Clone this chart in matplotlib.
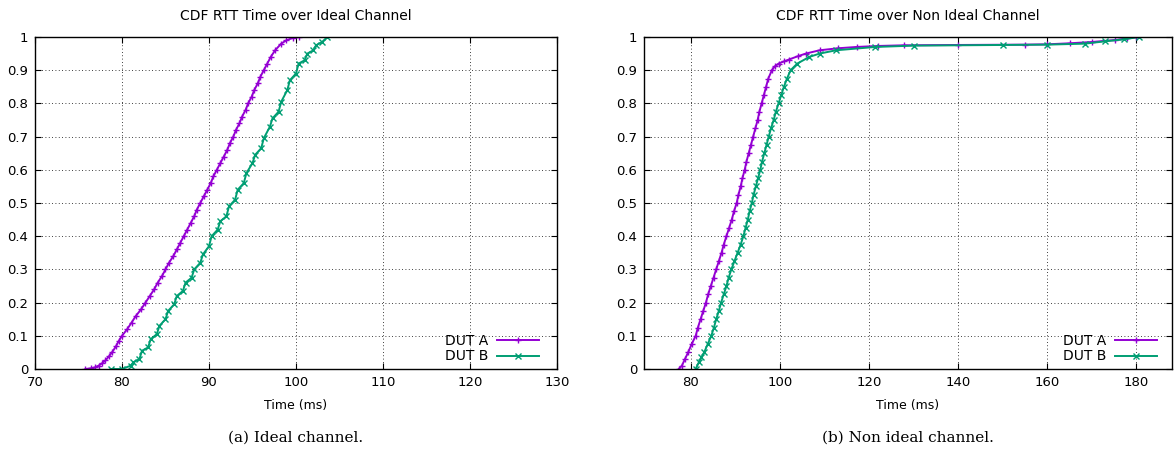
import matplotlib.pyplot as plt

# (a) ideal channel
ideal_a_x = [75.8, 76.4, 76.9, 77.3, 77.7, 78.1, 78.5, 78.9, 79.3, 79.6,
             80.0, 80.6, 81.1, 81.6, 82.2, 82.7, 83.2, 83.7, 84.1, 84.6,
             85.0, 85.4, 85.9, 86.3, 86.7, 87.1, 87.5, 87.9, 88.3, 88.6,
             89.0, 89.4, 89.8, 90.2, 90.5, 90.9, 91.3, 91.7, 92.1, 92.4,
             92.8, 93.1, 93.5, 93.8, 94.2, 94.5, 94.9, 95.2, 95.6, 95.9,
             96.3, 96.7, 97.1, 97.6, 98.3, 98.9, 99.6, 100.3, 130.0]
ideal_a_y = [0.0, 0.002, 0.005, 0.01, 0.017, 0.026, 0.038, 0.052, 0.068, 0.083,
             0.10, 0.12, 0.14, 0.16, 0.18, 0.20, 0.22, 0.24, 0.26, 0.28,
             0.30, 0.32, 0.34, 0.36, 0.38, 0.40, 0.42, 0.44, 0.46, 0.48,
             0.50, 0.52, 0.54, 0.56, 0.58, 0.60, 0.62, 0.64, 0.66, 0.68,
             0.70, 0.72, 0.74, 0.76, 0.78, 0.80, 0.82, 0.84, 0.86, 0.88,
             0.90, 0.92, 0.94, 0.96, 0.98, 0.99, 0.997, 1.0, 1.0]

ideal_b_x = [78.7, 80.0, 81.0, 81.3, 82.0, 82.3, 83.0, 83.3, 84.0, 84.3, 85.0, 85.3,
             86.0, 86.3, 87.0, 87.3, 88.0, 88.3, 89.0, 89.3, 90.0, 90.3, 91.0, 91.3,
             92.0, 92.3, 93.0, 93.3, 94.0, 94.3, 95.0, 95.3, 96.0, 96.3, 97.0, 97.3,
             98.0, 98.3, 99.0, 99.3, 100.0, 100.3, 101.0, 101.3, 102.0, 102.3, 103.0,
             103.6, 130.0]
ideal_b_y = [0.0, 0.0, 0.01, 0.02, 0.03, 0.055, 0.065, 0.09, 0.105, 0.13, 0.15, 0.175,
             0.195, 0.22, 0.235, 0.26, 0.275, 0.30, 0.32, 0.345, 0.37, 0.40, 0.42, 0.445,
             0.46, 0.49, 0.51, 0.54, 0.56, 0.59, 0.62, 0.645, 0.665, 0.695, 0.73, 0.755,
             0.775, 0.805, 0.84, 0.87, 0.89, 0.92, 0.93, 0.95, 0.96, 0.975, 0.985,
             1.0, 1.0]

# (b) non ideal channel
nonideal_a_x = [77.3, 78.0, 78.7, 79.4, 80.2, 81.1, 81.6, 82.2, 82.8, 83.4, 83.9, 84.5,
                85.1, 85.7, 86.3, 86.9, 87.4, 88.0, 88.6, 89.2, 89.7, 90.3, 90.7, 91.2,
                91.6, 92.1, 92.5, 93.0, 93.5, 94.0, 94.5, 95.0, 95.4, 95.9, 96.4, 96.9,
                97.4, 98.2, 98.9, 99.7, 101.0, 102.0, 104.0, 105.8, 108.9, 113.0, 117.2,
                122.0, 127.8, 140.0, 155.0, 160.0, 165.0, 170.0, 175.3, 178.0, 180.0, 188.0]
nonideal_a_y = [0.0, 0.01, 0.03, 0.05, 0.075, 0.10, 0.125, 0.15, 0.175, 0.20, 0.225, 0.25,
                0.275, 0.30, 0.325, 0.35, 0.375, 0.40, 0.425, 0.45, 0.475, 0.50, 0.525, 0.55,
                0.575, 0.60, 0.625, 0.65, 0.675, 0.70, 0.725, 0.75, 0.775, 0.80, 0.825, 0.85,
                0.875, 0.90, 0.912, 0.92, 0.927, 0.932, 0.942, 0.95, 0.96, 0.966, 0.97,
                0.973, 0.975, 0.976, 0.977, 0.978, 0.981, 0.985, 0.991, 0.996, 1.0, 1.0]

nonideal_b_x = [81.1, 81.8, 82.4, 83.0, 83.8, 84.6, 85.2, 85.7, 86.3, 86.8, 87.4, 88.0,
                88.5, 89.1, 89.8, 90.5, 91.2, 91.8, 92.3, 92.8, 93.2, 93.7, 94.1, 94.6,
                95.1, 95.6, 96.0, 96.5, 97.0, 97.5, 98.0, 98.6, 99.1, 99.7, 100.3, 100.9,
                101.6, 102.4, 103.9, 106.6, 108.9, 112.6, 121.4, 130.0, 150.0, 160.0,
                168.5, 173.0, 177.3, 180.5, 188.0]
nonideal_b_y = [0.0, 0.02, 0.035, 0.05, 0.075, 0.10, 0.125, 0.15, 0.175, 0.20, 0.225, 0.25,
                0.275, 0.30, 0.325, 0.35, 0.375, 0.40, 0.425, 0.45, 0.475, 0.50, 0.525, 0.55,
                0.575, 0.60, 0.625, 0.65, 0.675, 0.70, 0.725, 0.75, 0.775, 0.80, 0.825, 0.85,
                0.875, 0.90, 0.92, 0.94, 0.95, 0.96, 0.97, 0.974, 0.976, 0.977,
                0.98, 0.987, 0.993, 1.0, 1.0]

titles = ["CDF RTT Time over Ideal Channel", "CDF RTT Time over Non Ideal Channel"]
captions = ["(a) Ideal channel.", "(b) Non ideal channel."]
labels = ["DUT A", "DUT B"]
yticks = [0, 0.1, 0.2, 0.3, 0.4, 0.5, 0.6, 0.7, 0.8, 0.9, 1]
ytick_labels = ["0", "0.1", "0.2", "0.3", "0.4", "0.5", "0.6", "0.7", "0.8", "0.9", "1"]

purple = "#9400D3"
green = "#009E73"

plt.rcParams["font.family"] = ["DejaVu Sans"]

W, H = 1176, 450
fig = plt.figure(figsize=(W / 100, H / 100), dpi=100)
ax1 = fig.add_axes([35 / W, 81 / H, 522 / W, 332 / H])
ax2 = fig.add_axes([644 / W, 81 / H, 528 / W, 332 / H])

panels = [
    (ax1, ideal_a_x, ideal_a_y, ideal_b_x, ideal_b_y, (70, 130), [70, 80, 90, 100, 110, 120, 130], 539),
    (ax2, nonideal_a_x, nonideal_a_y, nonideal_b_x, nonideal_b_y, (69.5, 188), [80, 100, 120, 140, 160, 180], 1157),
]

for i, (ax, ax_x, ax_y, bx, by, xlim, xticks, leg_right) in enumerate(panels):
    # last point only carries the line to the right edge, no marker there
    ax.plot(ax_x, ax_y, color=purple, lw=1.4, marker="+", ms=5, mew=1.0,
            markevery=slice(0, -1), label=labels[0])
    ax.plot(bx, by, color=green, lw=1.4, marker="x", ms=4, mew=1.0,
            markevery=slice(0, -1), label=labels[1])
    ax.set_xlim(*xlim)
    ax.set_ylim(0, 1)
    ax.set_xticks(xticks)
    ax.set_yticks(yticks)
    ax.set_yticklabels(ytick_labels)
    ax.grid(True, color="black", linestyle=(0, (1, 3)), lw=0.6)
    ax.tick_params(direction="in", top=True, right=True, length=4, labelsize=9.5, pad=5)
    for s in ax.spines.values():
        s.set_linewidth(1.0)
    ax.set_title(titles[i], fontsize=10, pad=12)
    ax.set_xlabel("Time (ms)", fontsize=9, labelpad=7)
    pos = ax.get_position()
    fs = 10
    bp = 0.4 * fs * 100 / 72
    anchor_x = (leg_right + bp - pos.x0 * W) / (pos.width * W)
    ax.legend(loc="lower right", frameon=False, markerfirst=False, fontsize=fs,
              handlelength=3.0, labelspacing=0.1, borderaxespad=0,
              bbox_to_anchor=(anchor_x, 0.0), handletextpad=0.65)
    fig.text(pos.x0 + pos.width / 2, 12 / H, captions[i], ha="center", va="center",
             fontsize=11, family="DejaVu Serif")

fig.savefig("out.png", dpi=100)
